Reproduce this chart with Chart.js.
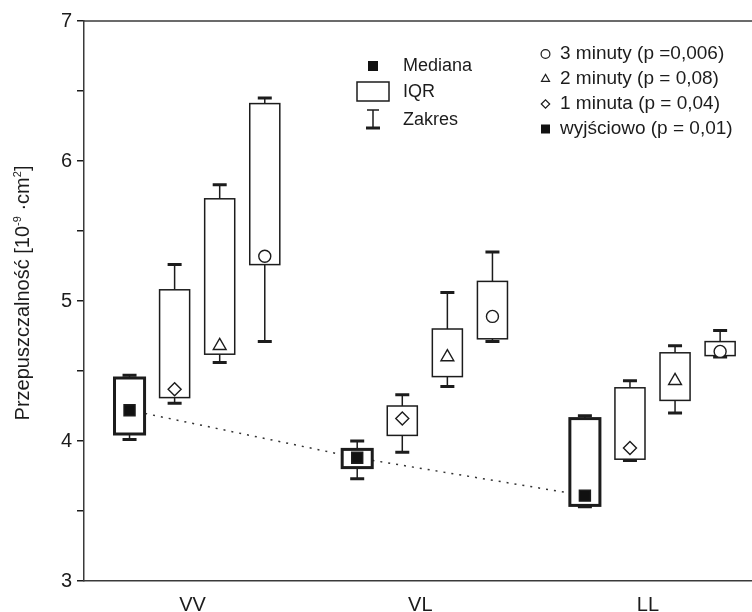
<!DOCTYPE html>
<html>
<head>
<meta charset="utf-8">
<script src="https://cdn.jsdelivr.net/npm/chart.js@4/dist/chart.umd.min.js"></script>
<style>
  html, body { margin: 0; padding: 0; background: #ffffff; }
  #wrap { width: 752px; height: 612px; }
</style>
</head>
<body>
<div id="wrap"><canvas id="c" width="752" height="612"></canvas></div>
<script>
// Posture groups on the horizontal axis
const categories = ['VV', 'VL', 'LL'];

// Each row: [min, Q1, median, Q3, max] for VV, VL, LL
const baseline = [[4.01, 4.05, 4.22, 4.45, 4.47], [3.73, 3.81, 3.88, 3.94, 4.00], [3.53, 3.54, 3.61, 4.16, 4.18]];
const minute1  = [[4.27, 4.31, 4.37, 5.08, 5.26], [3.92, 4.04, 4.16, 4.25, 4.33], [3.86, 3.87, 3.95, 4.38, 4.43]];
const minute2  = [[4.56, 4.62, 4.68, 5.73, 5.83], [4.39, 4.46, 4.60, 4.80, 5.06], [4.20, 4.29, 4.43, 4.63, 4.68]];
const minute3  = [[4.71, 5.26, 5.32, 6.41, 6.45], [4.71, 4.73, 4.89, 5.14, 5.35], [4.60, 4.61, 4.64, 4.71, 4.79]];

const yTicks = [3, 4, 5, 6, 7];
const seriesLabels = ['wyjściowo (p = 0,01)', '1 minuta (p = 0,04)', '2 minuty (p = 0,08)', '3 minuty (p =0,006)'];
const keyLabels = ['Mediana', 'IQR', 'Zakres'];

const series = [baseline, minute1, minute2, minute3];
const STEP = 0.198;      // spacing of boxes inside a group (x units)
const BOX_W = 0.132;     // box width (x units)
const offset = k => (k - 1.5) * STEP;

const INK = '#1c1c1c';
const AXIS = '#3a3a3a';
const FONT = '"Liberation Sans", Arial, sans-serif';

const markerStyles = [
  { pointStyle: 'rect',     radius: 7.8, bg: '#111111' },
  { pointStyle: 'rectRot',  radius: 6.5, bg: '#ffffff' },
  { pointStyle: 'triangle', radius: 7.4, bg: '#ffffff' },
  { pointStyle: 'circle',   radius: 6.0, bg: '#ffffff' }
];

const markerSets = series.map((s, k) => ({
  type: 'scatter',
  label: seriesLabels[k],
  data: s.map((st, i) => ({ x: i + offset(k), y: st[2] })),
  pointStyle: markerStyles[k].pointStyle,
  pointRadius: markerStyles[k].radius,
  pointHoverRadius: markerStyles[k].radius,
  pointBackgroundColor: markerStyles[k].bg,
  pointBorderColor: INK,
  pointBorderWidth: 1.4,
  order: 0
}));

const trendSet = {
  type: 'line',
  label: 'trend',
  data: baseline.map((st, i) => ({ x: i + offset(0), y: st[2] })),
  borderColor: '#333333',
  borderWidth: 1.5,
  borderDash: [2, 6],
  pointRadius: 0,
  fill: false,
  tension: 0,
  order: 10
};

// Boxes and whiskers, drawn right after the dotted trend line so markers sit on top
const boxPlugin = {
  id: 'boxes',
  afterDatasetDraw(chart, args) {
    if (args.index !== 0) return;
    const { ctx, scales: { x, y } } = chart;
    const half = (x.getPixelForValue(BOX_W) - x.getPixelForValue(0)) / 2;
    const capHalf = 7;
    ctx.save();
    ctx.strokeStyle = INK;
    series.forEach((s, k) => {
      s.forEach((st, i) => {
        const cx = x.getPixelForValue(i + offset(k));
        const [mn, q1, , q3, mx] = st.map(v => y.getPixelForValue(v));
        // whiskers
        ctx.lineWidth = 1.5;
        ctx.beginPath();
        ctx.moveTo(cx, q3); ctx.lineTo(cx, mx);
        ctx.moveTo(cx, q1); ctx.lineTo(cx, mn);
        ctx.stroke();
        ctx.lineWidth = 3;
        ctx.beginPath();
        ctx.moveTo(cx - capHalf, mx); ctx.lineTo(cx + capHalf, mx);
        ctx.moveTo(cx - capHalf, mn); ctx.lineTo(cx + capHalf, mn);
        ctx.stroke();
        // box
        ctx.fillStyle = '#ffffff';
        ctx.fillRect(cx - half, q3, 2 * half, q1 - q3);
        ctx.lineWidth = k === 0 ? 3 : 1.5;
        ctx.strokeRect(cx - half, q3, 2 * half, q1 - q3);
      });
    });
    ctx.restore();
  },
  afterDraw(chart) {
    const { ctx, chartArea: a } = chart;
    const P = Chart.helpers.drawPoint;
    ctx.save();
    // top frame line
    ctx.strokeStyle = AXIS;
    ctx.lineWidth = 1.5;
    ctx.beginPath();
    ctx.moveTo(a.left, a.top); ctx.lineTo(a.right, a.top);
    ctx.stroke();

    // y axis title with superscripts
    const big = '20px ' + FONT;
    const small = '11px ' + FONT;
    const parts = [
      ['Przepuszczalność [10', big, 0],
      ['-9', small, -8],
      [' ·cm', big, 0],
      ['2', small, -8],
      [']', big, 0]
    ];
    let total = 0;
    parts.forEach(p => { ctx.font = p[1]; total += ctx.measureText(p[0]).width; });
    ctx.translate(29, (a.top + a.bottom) / 2 - 8);
    ctx.rotate(-Math.PI / 2);
    ctx.fillStyle = INK;
    ctx.textBaseline = 'alphabetic';
    ctx.textAlign = 'left';
    let px = -total / 2;
    parts.forEach(p => {
      ctx.font = p[1];
      ctx.fillText(p[0], px, p[2]);
      px += ctx.measureText(p[0]).width;
    });
    ctx.setTransform(1, 0, 0, 1, 0, 0);

    // key: median / IQR / range
    ctx.fillStyle = '#111111';
    ctx.fillRect(368, 61, 10, 10);
    ctx.strokeStyle = INK;
    ctx.lineWidth = 1.5;
    ctx.strokeRect(357, 82, 32, 19);
    ctx.beginPath();
    ctx.moveTo(373, 110); ctx.lineTo(373, 128);
    ctx.moveTo(367, 110); ctx.lineTo(379, 110);
    ctx.stroke();
    ctx.lineWidth = 3;
    ctx.beginPath();
    ctx.moveTo(366, 128); ctx.lineTo(380, 128);
    ctx.stroke();

    ctx.font = '18px ' + FONT;
    ctx.fillStyle = INK;
    ctx.textBaseline = 'middle';
    ctx.textAlign = 'left';
    ctx.fillText(keyLabels[0], 403, 66);
    ctx.fillText(keyLabels[1], 403, 92);
    ctx.fillText(keyLabels[2], 403, 120);

    // series legend (top to bottom: 3 min, 2 min, 1 min, baseline)
    const rows = [3, 2, 1, 0];
    const legSize = [4.5, 4.2, 4.6, 4.4];
    rows.forEach((k, r) => {
      const yy = 54 + r * 25;
      ctx.strokeStyle = INK;
      if (k === 0) {
        ctx.fillStyle = '#111111';
        ctx.fillRect(541, yy - 4.5, 9, 9);
      } else {
        ctx.fillStyle = '#ffffff';
        ctx.lineWidth = 1.2;
        P(ctx, { pointStyle: markerStyles[k].pointStyle, radius: legSize[k], rotation: 0, borderWidth: 1.2 }, 545.5, yy);
      }
      ctx.fillStyle = INK;
      ctx.font = '19px ' + FONT;
      ctx.textBaseline = 'middle';
      ctx.fillText(seriesLabels[k], 560, yy);
    });
    ctx.restore();
  }
};

new Chart(document.getElementById('c'), {
  type: 'scatter',
  data: { datasets: [trendSet, ...markerSets] },
  options: {
    responsive: false,
    animation: false,
    events: [],
    layout: { autoPadding: false, padding: { top: 21, right: 0, bottom: 0, left: 0 } },
    plugins: { legend: { display: false }, tooltip: { enabled: false }, title: { display: false } },
    scales: {
      x: {
        type: 'linear',
        min: -0.497,
        max: 2.437,
        afterFit(scale) { scale.height = 31; scale.paddingLeft = 0; scale.paddingRight = 0; },
        afterBuildTicks(scale) { scale.ticks = categories.map((c, i) => ({ value: i - 0.02 })); },
        ticks: {
          padding: 12,
          color: INK,
          font: { family: FONT, size: 20 },
          callback: (v) => categories[Math.round(v)]
        },
        grid: { display: true, drawOnChartArea: false, drawTicks: false, color: 'rgba(0,0,0,0)' },
        border: { display: true, color: AXIS, width: 1.5 }
      },
      y: {
        type: 'linear',
        min: 3,
        max: 7,
        afterFit(scale) { scale.width = 84; },
        ticks: {
          stepSize: 0.5,
          padding: 5,
          color: INK,
          font: { family: FONT, size: 20 },
          callback: (v) => (yTicks.includes(v) ? String(v) : '')
        },
        grid: { drawOnChartArea: false, drawTicks: true, tickLength: 7, color: INK, lineWidth: 1.5 },
        border: { display: true, color: AXIS, width: 1.5 }
      }
    }
  },
  plugins: [boxPlugin]
});
</script>
</body>
</html>
